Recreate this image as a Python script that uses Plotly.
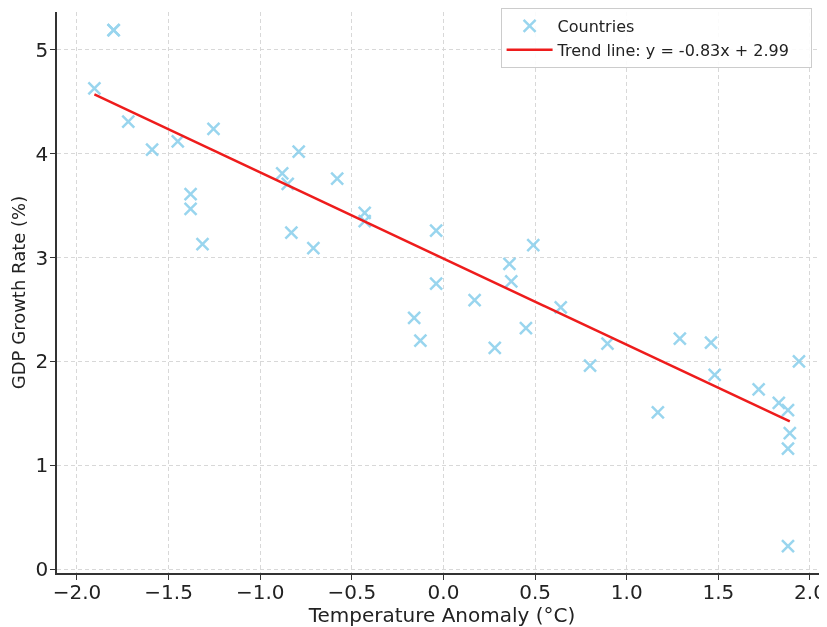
import plotly.graph_objects as go

# Data
temp_anomaly = [-1.905, -1.80, -1.80, -1.72, -1.59, -1.45, -1.38, -1.38, -1.315, -1.255,
                -0.88, -0.85, -0.83, -0.79, -0.71, -0.58, -0.43, -0.43, -0.16, -0.126,
                -0.04, -0.04, 0.17, 0.28, 0.36, 0.37, 0.45, 0.49, 0.64, 0.80,
                0.895, 1.17, 1.29, 1.46, 1.48, 1.72, 1.83, 1.88, 1.89, 1.88,
                1.94, 1.88]
gdp_growth = [4.63, 5.19, 5.19, 4.31, 4.04, 4.12, 3.61, 3.47, 3.13, 4.24,
              3.81, 3.71, 3.24, 4.02, 3.09, 3.76, 3.43, 3.35, 2.42, 2.20,
              3.26, 2.75, 2.59, 2.13, 2.94, 2.77, 2.32, 3.12, 2.52, 1.96,
              2.17, 1.51, 2.22, 2.18, 1.87, 1.73, 1.60, 1.53, 1.31, 1.16,
              2.00, 0.22]

slope = -0.83
intercept = 2.99
trend_x = [-1.905, 1.89]
trend_y = [slope * v + intercept for v in trend_x]

x_ticks = [-2.0, -1.5, -1.0, -0.5, 0.0, 0.5, 1.0, 1.5, 2.0]
y_ticks = [0, 1, 2, 3, 4, 5]

FONT = "DejaVu Sans"

fig = go.Figure()
fig.add_trace(go.Scatter(
    x=temp_anomaly, y=gdp_growth, mode="markers", name="Countries",
    marker=dict(symbol="x-thin", size=12, color="#87CEEB",
                line=dict(width=2.5, color="#87CEEB")),
    opacity=0.85,
))
fig.add_trace(go.Scatter(
    x=trend_x, y=trend_y, mode="lines",
    name=f"Trend line: y = {slope:.2f}x + {intercept:.2f}\u00a0\u00a0\u00a0",
    line=dict(color="#EE1C1C", width=2.5),
))

axis_common = dict(
    showline=True, linecolor="#333333", linewidth=1.5, mirror=False,
    ticks="outside", ticklen=5, tickwidth=1.2, tickcolor="#333333",
    showgrid=True, gridcolor="#D8D8D8", griddash="4px,3px", gridwidth=1,
    zeroline=False, automargin=False,
    tickfont=dict(family=FONT, size=20, color="#222222"),
)

fig.update_layout(
    width=819, height=619,
    margin=dict(l=49, r=0, t=2, b=54),
    paper_bgcolor="white", plot_bgcolor="white",
    font=dict(family=FONT, color="#222222"),
    xaxis=dict(range=[-2.109, 2.093], tickvals=x_ticks, tickformat=".1f",
               ticklabelstandoff=-5,
               title=dict(text="Temperature Anomaly (°C)", font=dict(family=FONT, size=20)),
               **axis_common),
    yaxis=dict(range=[-0.038, 5.365], tickvals=y_ticks,
               ticklabelstandoff=-2,
               title=dict(text="GDP Growth Rate (%)", font=dict(family=FONT, size=18)),
               **axis_common),
    legend=dict(x=0.98, y=1.007, xanchor="right", yanchor="top",
                bgcolor="rgba(255,255,255,0.9)", bordercolor="#CCCCCC", borderwidth=1,
                font=dict(family=FONT, size=16, color="#222222"),
                itemwidth=46, tracegroupgap=2),
    showlegend=True,
)

fig.write_html("out.html")
